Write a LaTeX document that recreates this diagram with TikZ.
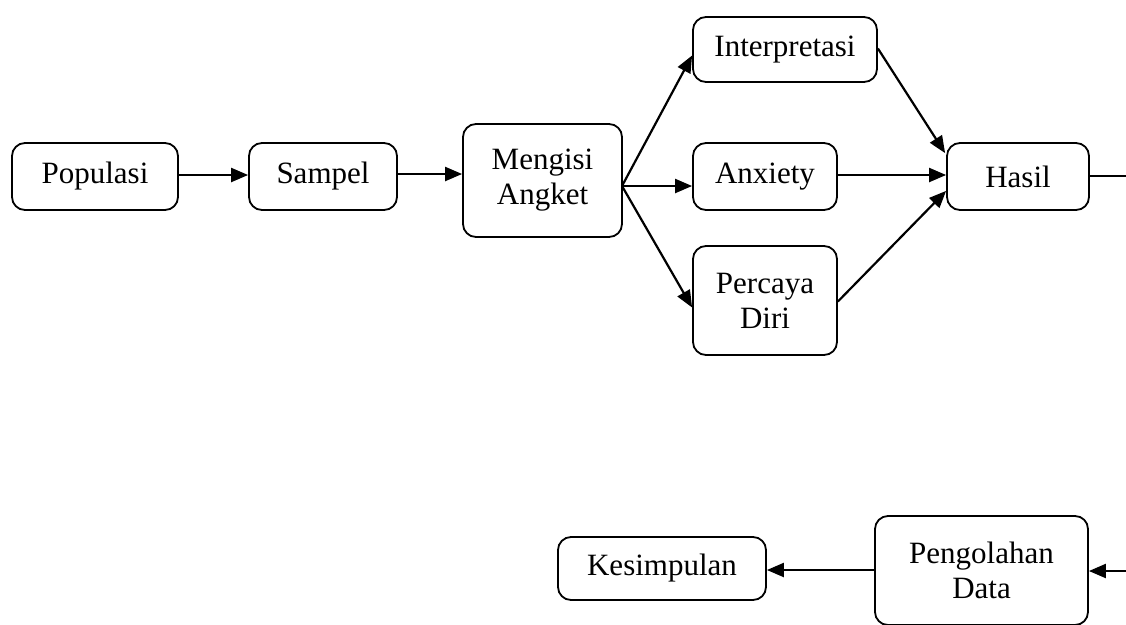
\documentclass[tikz,border=0pt]{standalone}
\usepackage{fontspec}
\setmainfont{Liberation Serif}
\usetikzlibrary{arrows.meta,calc}
\begin{document}
\begin{tikzpicture}[x=1pt,y=-1pt,
  box/.style={draw,line width=1.8pt,rounded corners=13pt,align=center,inner sep=0pt,
    font=\fontsize{31}{35}\selectfont},
  conn/.style={line width=2.2pt,-{Triangle[length=17pt,width=14pt]}},
  plain/.style={line width=2.2pt}]
\useasboundingbox (0,0) rectangle (1126,624);
\node[box,minimum width=166pt,minimum height=67pt] (pop) at (95,176.5) {Populasi};
\node[box,minimum width=148pt,minimum height=67pt] (sam) at (323,176.5) {Sampel};
\node[box,minimum width=159pt,minimum height=113pt] (men) at (542.5,180.5) {Mengisi\\Angket};
\node[box,minimum width=184pt,minimum height=65pt] (int) at (785,49.5) {Interpretasi};
\node[box,minimum width=144pt,minimum height=67pt] (anx) at (765,176.5) {Anxiety};
\node[box,minimum width=144pt,minimum height=109pt] (per) at (765,300.5) {Percaya\\Diri};
\node[box,minimum width=142pt,minimum height=67pt] (has) at (1018,176.5) {Hasil};
\node[box,minimum width=208pt,minimum height=63pt] (kes) at (662,568.5) {Kesimpulan};
\node[box,minimum width=213pt,minimum height=109pt] (peng) at (981.5,570.5) {Pengolahan\\Data};
\coordinate (fan) at (622,186);
\coordinate (outA) at (1126,176);
\coordinate (outB) at (1126,571);
\draw[conn] (pop.east |- 0,175) -- (sam.west |- 0,175);
\draw[conn] (sam.east |- 0,174) -- (men.west |- 0,174);
\draw[conn] (fan) -- ($(int.west)+(0,6)$);
\draw[conn] (fan) -- (fan -| anx.west);
\draw[conn] (fan) -- ($(per.west)+(0,7)$);
\draw[conn] ($(int.east)+(0,-1)$) -- ($(has.north west)+(-1,11)$);
\draw[conn] (anx.east |- 0,175) -- (has.west |- 0,175);
\draw[conn] ($(per.east)+(0,1)$) -- ($(has.south west)+(0,-20)$);
\draw[plain] (has.east |- outA) -- (outA);
\draw[conn] (outB) -- (outB -| peng.east);
\draw[conn] (peng.west |- 0,570) -- (kes.east |- 0,570);
\end{tikzpicture}
\end{document}
